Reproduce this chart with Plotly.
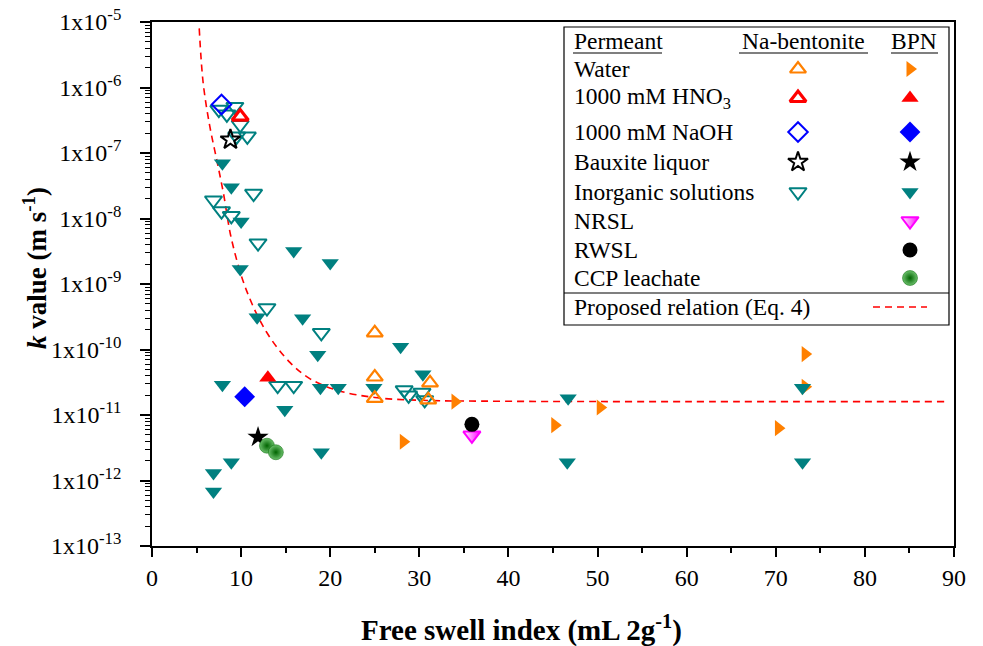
import plotly.graph_objects as go

# ---------------- data ----------------
water_na_x = [25, 25, 25, 31.2, 31]
water_na_k = [1.8e-10, 3.8e-11, 1.8e-11, 3.1e-11, 1.7e-11]

water_bpn_x = [34, 28.2, 45.2, 50.3, 70.3, 73.3, 73.3]
water_bpn_k = [1.6e-11, 3.9e-12, 7.0e-12, 1.3e-11, 6.3e-12, 8.5e-11, 2.7e-11]

hno3_na_x = [9.9]
hno3_na_k = [3.6e-7]
hno3_bpn_x = [13.0]
hno3_bpn_k = [3.7e-11]

naoh_na_x = [7.8]
naoh_na_k = [5.5e-7]
naoh_bpn_x = [10.4]
naoh_bpn_k = [1.9e-11]

baux_na_x = [8.8]
baux_na_k = [1.6e-7]
baux_bpn_x = [11.9]
baux_bpn_k = [4.6e-12]

inorg_na_x = [7.5, 8.4, 9.3, 9.9, 9.5, 10.7, 11.4, 6.9, 7.8, 8.9, 11.9, 12.9,
              19.0, 14.1, 15.9, 28.3, 28.8, 30.3, 30.6]
inorg_na_k = [4.6e-7, 3.9e-7, 5.1e-7, 2.7e-7, 1.8e-7, 1.8e-7, 2.4e-8, 1.9e-8,
              1.3e-8, 1.1e-8, 4.2e-9, 4.3e-10, 1.8e-10, 2.8e-11, 2.8e-11,
              2.4e-11, 2.0e-11, 2.2e-11, 1.7e-11]

inorg_bpn_x = [7.9, 8.9, 10.0, 15.9, 20.0, 9.9, 11.8, 16.9, 18.6, 7.9, 18.9, 20.9,
               14.9, 19.0, 8.9, 6.9, 6.9, 27.9, 24.9, 30.4, 46.7, 46.6, 73.0, 73.0]
inorg_bpn_k = [7.0e-8, 3.0e-8, 9.0e-9, 3.2e-9, 2.1e-9, 1.7e-9, 3.1e-10, 3.0e-10,
               8.3e-11, 2.9e-11, 2.6e-11, 2.6e-11, 1.2e-11, 2.7e-12, 1.9e-12,
               1.3e-12, 6.8e-13, 1.1e-10, 2.6e-11, 4.2e-11, 1.8e-11, 1.9e-12,
               2.6e-11, 1.9e-12]

nrsl_x = [35.9]
nrsl_k = [4.9e-12]
rwsl_x = [35.9]
rwsl_k = [7.2e-12]
ccp_x = [12.9, 13.9]
ccp_k = [3.4e-12, 2.7e-12]

# proposed relation (Eq. 4)
rel_x = [5.3, 5.75, 6.5, 7.26, 8.0, 8.94, 10.6, 12.9, 15.5, 17.7, 20.7, 25, 30, 40, 60, 89]
rel_k = [8e-6, 1.15e-6, 2.5e-7, 7.9e-8, 2.5e-8, 4.7e-9, 8e-10, 1.8e-10, 6.3e-11,
         3.6e-11, 2.4e-11, 1.85e-11, 1.68e-11, 1.62e-11, 1.6e-11, 1.6e-11]

y_tick_exp = [-13, -12, -11, -10, -9, -8, -7, -6, -5]
x_ticks = [0, 10, 20, 30, 40, 50, 60, 70, 80, 90]

legend_rows = ["Water", "1000 mM HNO<sub>3</sub>", "1000 mM NaOH", "Bauxite liquor",
               "Inorganic solutions", "NRSL", "RWSL", "CCP leachate"]

# ---------------- styling ----------------
ORANGE = "#FF8000"
RED = "#FF0000"
BLUE = "#0000FF"
TEAL = "#008080"
MAG = "#FF00FF"
GREEN = "#008000"
FONT = "Liberation Serif"
MS = 14
LEG_FS = 23.5
TICK_FS = 24

W, H = 983, 646
L, R, T, B = 152, 954, 22, 546  # plot area in pixels


def px(xp):
    return (xp - L) / (R - L)


def py(yp):
    return (B - yp) / (B - T)


styles = {
    "water_na": dict(symbol="triangle-up-open", color=ORANGE, size=MS, line=dict(width=2.2, color=ORANGE)),
    "water_bpn": dict(symbol="triangle-right", color=ORANGE, size=MS, line=dict(width=0)),
    "hno3_na": dict(symbol="triangle-up-open", color=RED, size=MS, line=dict(width=3.2, color=RED)),
    "hno3_bpn": dict(symbol="triangle-up", color=RED, size=MS + 1, line=dict(width=0)),
    "naoh_na": dict(symbol="diamond-open", color=BLUE, size=MS + 1, line=dict(width=2, color=BLUE)),
    "naoh_bpn": dict(symbol="diamond", color=BLUE, size=MS + 2, line=dict(width=0)),
    "baux_na": dict(symbol="star-open", color="black", size=MS + 1, line=dict(width=2, color="black")),
    "baux_bpn": dict(symbol="star", color="black", size=MS + 2, line=dict(width=0)),
    "inorg_na": dict(symbol="triangle-down-open", color=TEAL, size=MS + 1, line=dict(width=2, color=TEAL)),
    "inorg_bpn": dict(symbol="triangle-down", color=TEAL, size=MS + 1, line=dict(width=0)),
    "nrsl": dict(symbol="triangle-down", color="white", size=MS + 1,
                 gradient=dict(type="horizontal", color=MAG), line=dict(width=2, color=MAG)),
    "rwsl": dict(symbol="circle", color="black", size=MS + 1, line=dict(width=0)),
    "ccp": dict(symbol="circle", color="#6cc06c", size=MS + 1,
                gradient=dict(type="radial", color="#006400"), line=dict(width=0.5, color="#006400")),
}

fig = go.Figure()

# proposed relation curve
fig.add_trace(go.Scatter(x=rel_x, y=rel_k, mode="lines",
                         line=dict(color=RED, width=1.6, dash="7px,5px", shape="spline", smoothing=1.0),
                         showlegend=False, hoverinfo="skip"))

series = [
    ("water_bpn", water_bpn_x, water_bpn_k),
    ("inorg_bpn", inorg_bpn_x, inorg_bpn_k),
    ("inorg_na", inorg_na_x, inorg_na_k),
    ("water_na", water_na_x, water_na_k),
    ("hno3_na", hno3_na_x, hno3_na_k),
    ("hno3_bpn", hno3_bpn_x, hno3_bpn_k),
    ("naoh_na", naoh_na_x, naoh_na_k),
    ("naoh_bpn", naoh_bpn_x, naoh_bpn_k),
    ("baux_na", baux_na_x, baux_na_k),
    ("baux_bpn", baux_bpn_x, baux_bpn_k),
    ("nrsl", nrsl_x, nrsl_k),
    ("rwsl", rwsl_x, rwsl_k),
    ("ccp", ccp_x, ccp_k),
]
for key, xs, ks in series:
    fig.add_trace(go.Scatter(x=xs, y=ks, mode="markers", marker=styles[key], showlegend=False, name=key))

# ---------------- custom table legend ----------------
row_y = [69, 98, 132, 162, 192, 221, 250, 278]
na_keys = ["water_na", "hno3_na", "naoh_na", "baux_na", "inorg_na", None, None, None]
bpn_keys = ["water_bpn", "hno3_bpn", "naoh_bpn", "baux_bpn", "inorg_bpn", "nrsl", "rwsl", "ccp"]
col_na, col_bpn = 798, 910

for label, yy, kn, kb in zip(legend_rows, row_y, na_keys, bpn_keys):
    fig.add_annotation(x=px(572), y=py(yy), xref="paper", yref="paper", text=label,
                       showarrow=False, xanchor="left", yanchor="middle",
                       font=dict(family=FONT, size=LEG_FS, color="black"))
    if kn:
        fig.add_trace(go.Scatter(x=[px(col_na)], y=[py(yy)], xaxis="x2", yaxis="y2", mode="markers",
                                 marker=styles[kn], showlegend=False, hoverinfo="skip"))
    fig.add_trace(go.Scatter(x=[px(col_bpn)], y=[py(yy)], xaxis="x2", yaxis="y2", mode="markers",
                             marker=styles[kb], showlegend=False, hoverinfo="skip"))

headers = [("Permeant", 572, "left"), ("Na-bentonite", 803, "center"), ("BPN", 914, "center")]
for txt, xx, anc in headers:
    fig.add_annotation(x=px(xx), y=py(41), xref="paper", yref="paper", text=txt, showarrow=False,
                       xanchor=anc, yanchor="middle", font=dict(family=FONT, size=LEG_FS, color="black"))
fig.add_annotation(x=px(572), y=py(307), xref="paper", yref="paper", text="Proposed relation (Eq. 4)",
                   showarrow=False, xanchor="left", yanchor="middle",
                   font=dict(family=FONT, size=LEG_FS, color="black"))

# axis titles (placed as in the reference)
fig.add_annotation(x=px(521), y=py(628), xref="paper", yref="paper",
                   text="<b>Free swell index (mL 2g<sup>-1</sup>)</b>", showarrow=False,
                   xanchor="center", yanchor="middle", font=dict(family=FONT, size=29, color="black"))
fig.add_annotation(x=px(35), y=py(268), xref="paper", yref="paper", textangle=-90,
                   text="<b><i>k</i> value (m s<sup>-1</sup>)</b>", showarrow=False,
                   xanchor="center", yanchor="middle", font=dict(family=FONT, size=27, color="black"))

shapes = [
    dict(type="rect", xref="paper", yref="paper", x0=px(564), x1=px(949), y0=py(325), y1=py(27),
         line=dict(color="black", width=1.2), fillcolor="white", layer="below"),
    dict(type="line", xref="paper", yref="paper", x0=px(564), x1=px(949), y0=py(293), y1=py(293),
         line=dict(color="black", width=1.2)),
    dict(type="line", xref="paper", yref="paper", x0=px(573), x1=px(662), y0=py(53), y1=py(53),
         line=dict(color="black", width=1.2)),
    dict(type="line", xref="paper", yref="paper", x0=px(739), x1=px(868), y0=py(53), y1=py(53),
         line=dict(color="black", width=1.2)),
    dict(type="line", xref="paper", yref="paper", x0=px(891), x1=px(938), y0=py(53), y1=py(53),
         line=dict(color="black", width=1.2)),
    dict(type="line", xref="paper", yref="paper", x0=px(873), x1=px(927), y0=py(307), y1=py(307),
         line=dict(color=RED, width=1.6, dash="7px,5px")),
]

fig.update_layout(
    width=W, height=H,
    margin=dict(l=L, r=W - R, t=T, b=H - B, pad=0, autoexpand=False),
    paper_bgcolor="white", plot_bgcolor="white",
    font=dict(family=FONT, color="black"),
    shapes=shapes,
    xaxis=dict(range=[0, 90], tickvals=x_ticks, ticktext=[str(v) for v in x_ticks],
               ticks="outside", ticklen=9, tickwidth=1.5, tickcolor="black",
               minor=dict(dtick=5, ticks="outside", ticklen=5, tickwidth=1.5, tickcolor="black"),
               showline=True, linecolor="black", linewidth=1.8, mirror=True, automargin=False,
               showgrid=False, zeroline=False, ticklabeloverflow="allow",
               tickfont=dict(family=FONT, size=TICK_FS, color="black")),
    yaxis=dict(type="log", range=[-13, -5],
               tickvals=[10 ** e for e in y_tick_exp],
               ticktext=["1x10<sup>%d</sup>" % e for e in y_tick_exp],
               ticks="outside", ticklen=10, tickwidth=1.5, tickcolor="black",
               minor=dict(dtick="D1", ticks="outside", ticklen=5, tickwidth=1.2, tickcolor="black"),
               showline=True, linecolor="black", linewidth=1.8, mirror=True, automargin=False,
               showgrid=False, zeroline=False,
               ticklabelstandoff=14, ticklabeloverflow="allow",
               tickfont=dict(family=FONT, size=TICK_FS, color="black")),
    xaxis2=dict(range=[0, 1], overlaying="x", anchor="y2", visible=False, domain=[0, 1]),
    yaxis2=dict(range=[0, 1], overlaying="y", anchor="x2", visible=False, domain=[0, 1]),
)

fig.write_html("out.html", config={"displayModeBar": False},
               post_script="document.body.style.margin='0px';")
